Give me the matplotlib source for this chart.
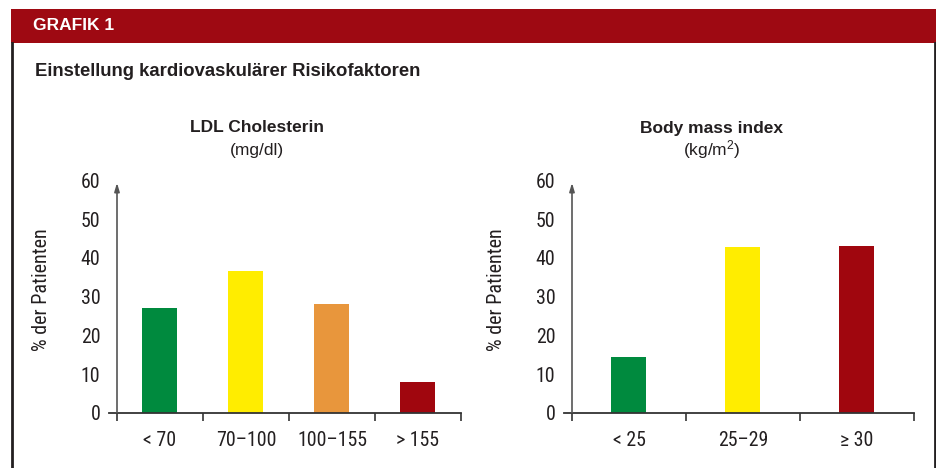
import matplotlib
matplotlib.use("Agg")
import matplotlib.pyplot as plt
from matplotlib import font_manager as fm
from matplotlib.patches import Rectangle
from matplotlib.lines import Line2D

# ---- data ----
ldl_categories = ["< 70", "70–100", "100–155", "> 155"]
ldl_values = [27, 36.7, 28, 8]
ldl_colors = ["#008A3E", "#FFED00", "#E8963C", "#A0060E"]

bmi_categories = ["< 25", "25–29", "≥ 30"]
bmi_values = [14.5, 42.7, 43]
bmi_colors = ["#008A3E", "#FFED00", "#A0060E"]

yticks = [0, 10, 20, 30, 40, 50, 60]

header_text = "GRAFIK 1"
main_title = "Einstellung kardiovaskulärer Risikofaktoren"
ldl_title = "LDL Cholesterin"
ldl_unit = "(mg/dl)"
bmi_title = "Body mass index"
bmi_unit = "(kg/m$^2$)"
ylabel = "% der Patienten"

# ---- fonts ----
names = {f.name for f in fm.fontManager.ttflist}
narrow = "Roboto Condensed" if "Roboto Condensed" in names else "Liberation Sans"
regular = "Liberation Sans"
plt.rcParams["font.family"] = [regular, "DejaVu Sans"]
plt.rcParams["mathtext.fontset"] = "custom"
plt.rcParams["mathtext.rm"] = regular
plt.rcParams["mathtext.it"] = regular
plt.rcParams["mathtext.bf"] = regular + ":bold"

TXT = "#231F20"
W, H = 937, 468
fig = plt.figure(figsize=(W / 100, H / 100), dpi=100)

def fx(px):
    return px / W

def fy(py):
    return 1 - py / H

# header band and frame
fig.patches.append(Rectangle((fx(11), fy(43)), fx(937) - fx(11), fy(9) - fy(43),
                             transform=fig.transFigure, facecolor="#9E0912", edgecolor="none"))
fig.lines.append(Line2D([fx(12), fx(12)], [fy(43), fy(468)], transform=fig.transFigure,
                        color=TXT, lw=2.0))
fig.lines.append(Line2D([fx(935.5), fx(935.5)], [fy(43), fy(468)], transform=fig.transFigure,
                        color=TXT, lw=2.0))
fig.text(fx(33), fy(26), header_text, color="white", fontsize=12.5, fontweight="bold",
         va="center", ha="left")
fig.text(fx(35), fy(72), main_title, color=TXT, fontsize=13.3, fontweight="bold",
         va="center", ha="left")

TICK_FS = 14.3


def panel(left, right, cats, vals, colors, barw, title, unit, title_x, ylab_x):
    zero_y, top_y = 412.7, 180.5
    ax = fig.add_axes([fx(left), fy(zero_y), fx(right) - fx(left), fy(top_y) - fy(zero_y)])
    n = len(cats)
    pos = [i + 0.5 for i in range(n)]
    ax.bar(pos, vals, width=barw, color=colors, zorder=2)
    ax.set_xlim(0, n)
    ax.set_ylim(0, 60)
    for s in ax.spines.values():
        s.set_visible(False)
    ax.patch.set_visible(False)
    # y ticks
    ax.set_yticks(yticks)
    ax.tick_params(axis="y", length=0, pad=12, labelsize=TICK_FS, labelcolor=TXT)
    for lab in ax.get_yticklabels():
        lab.set_fontfamily(narrow)
    # x ticks: major at boundaries, minor for labels
    ax.set_xticks(list(range(n + 1)))
    ax.set_xticklabels([""] * (n + 1))
    ax.tick_params(axis="x", which="major", length=5.5, width=1.2, direction="out", color="#333333")
    ax.set_xticks(pos, minor=True)
    ax.set_xticklabels(cats, minor=True)
    ax.tick_params(axis="x", which="minor", length=0, pad=13, labelsize=TICK_FS, labelcolor=TXT)
    for lab in ax.get_xticklabels(minor=True):
        lab.set_fontfamily(narrow)
    # x axis line extending slightly left
    ext = 8 / ((right - left) / n)
    ax.plot([-ext, n], [0, 0], color="#333333", lw=1.3, clip_on=False, zorder=3)
    # y axis arrow
    ax.annotate("", xy=(0, 59.4), xytext=(0, 0), xycoords="data",
                arrowprops=dict(arrowstyle="-|>,head_length=0.5,head_width=0.15",
                                color="#555555", lw=1.2, shrinkA=0, shrinkB=0),
                annotation_clip=False, zorder=3)
    fig.text(fx(title_x), fy(128), title, color=TXT, fontsize=12.5, fontweight="bold",
             ha="center", va="center")
    fig.text(fx(title_x), fy(150), unit, color=TXT, fontsize=12.5, ha="center", va="center")
    fig.text(fx(ylab_x), fy(290), ylabel, color=TXT, fontsize=14.5, rotation=90,
             ha="center", va="center", family=narrow)
    return ax


panel(117, 461, ldl_categories, ldl_values, ldl_colors, 35 / 86,
      ldl_title, ldl_unit, 257, 42)
panel(572, 914, bmi_categories, bmi_values, bmi_colors, 35 / 114,
      bmi_title, bmi_unit, 712, 497)

fig.savefig("out.png", dpi=100, facecolor="white")
